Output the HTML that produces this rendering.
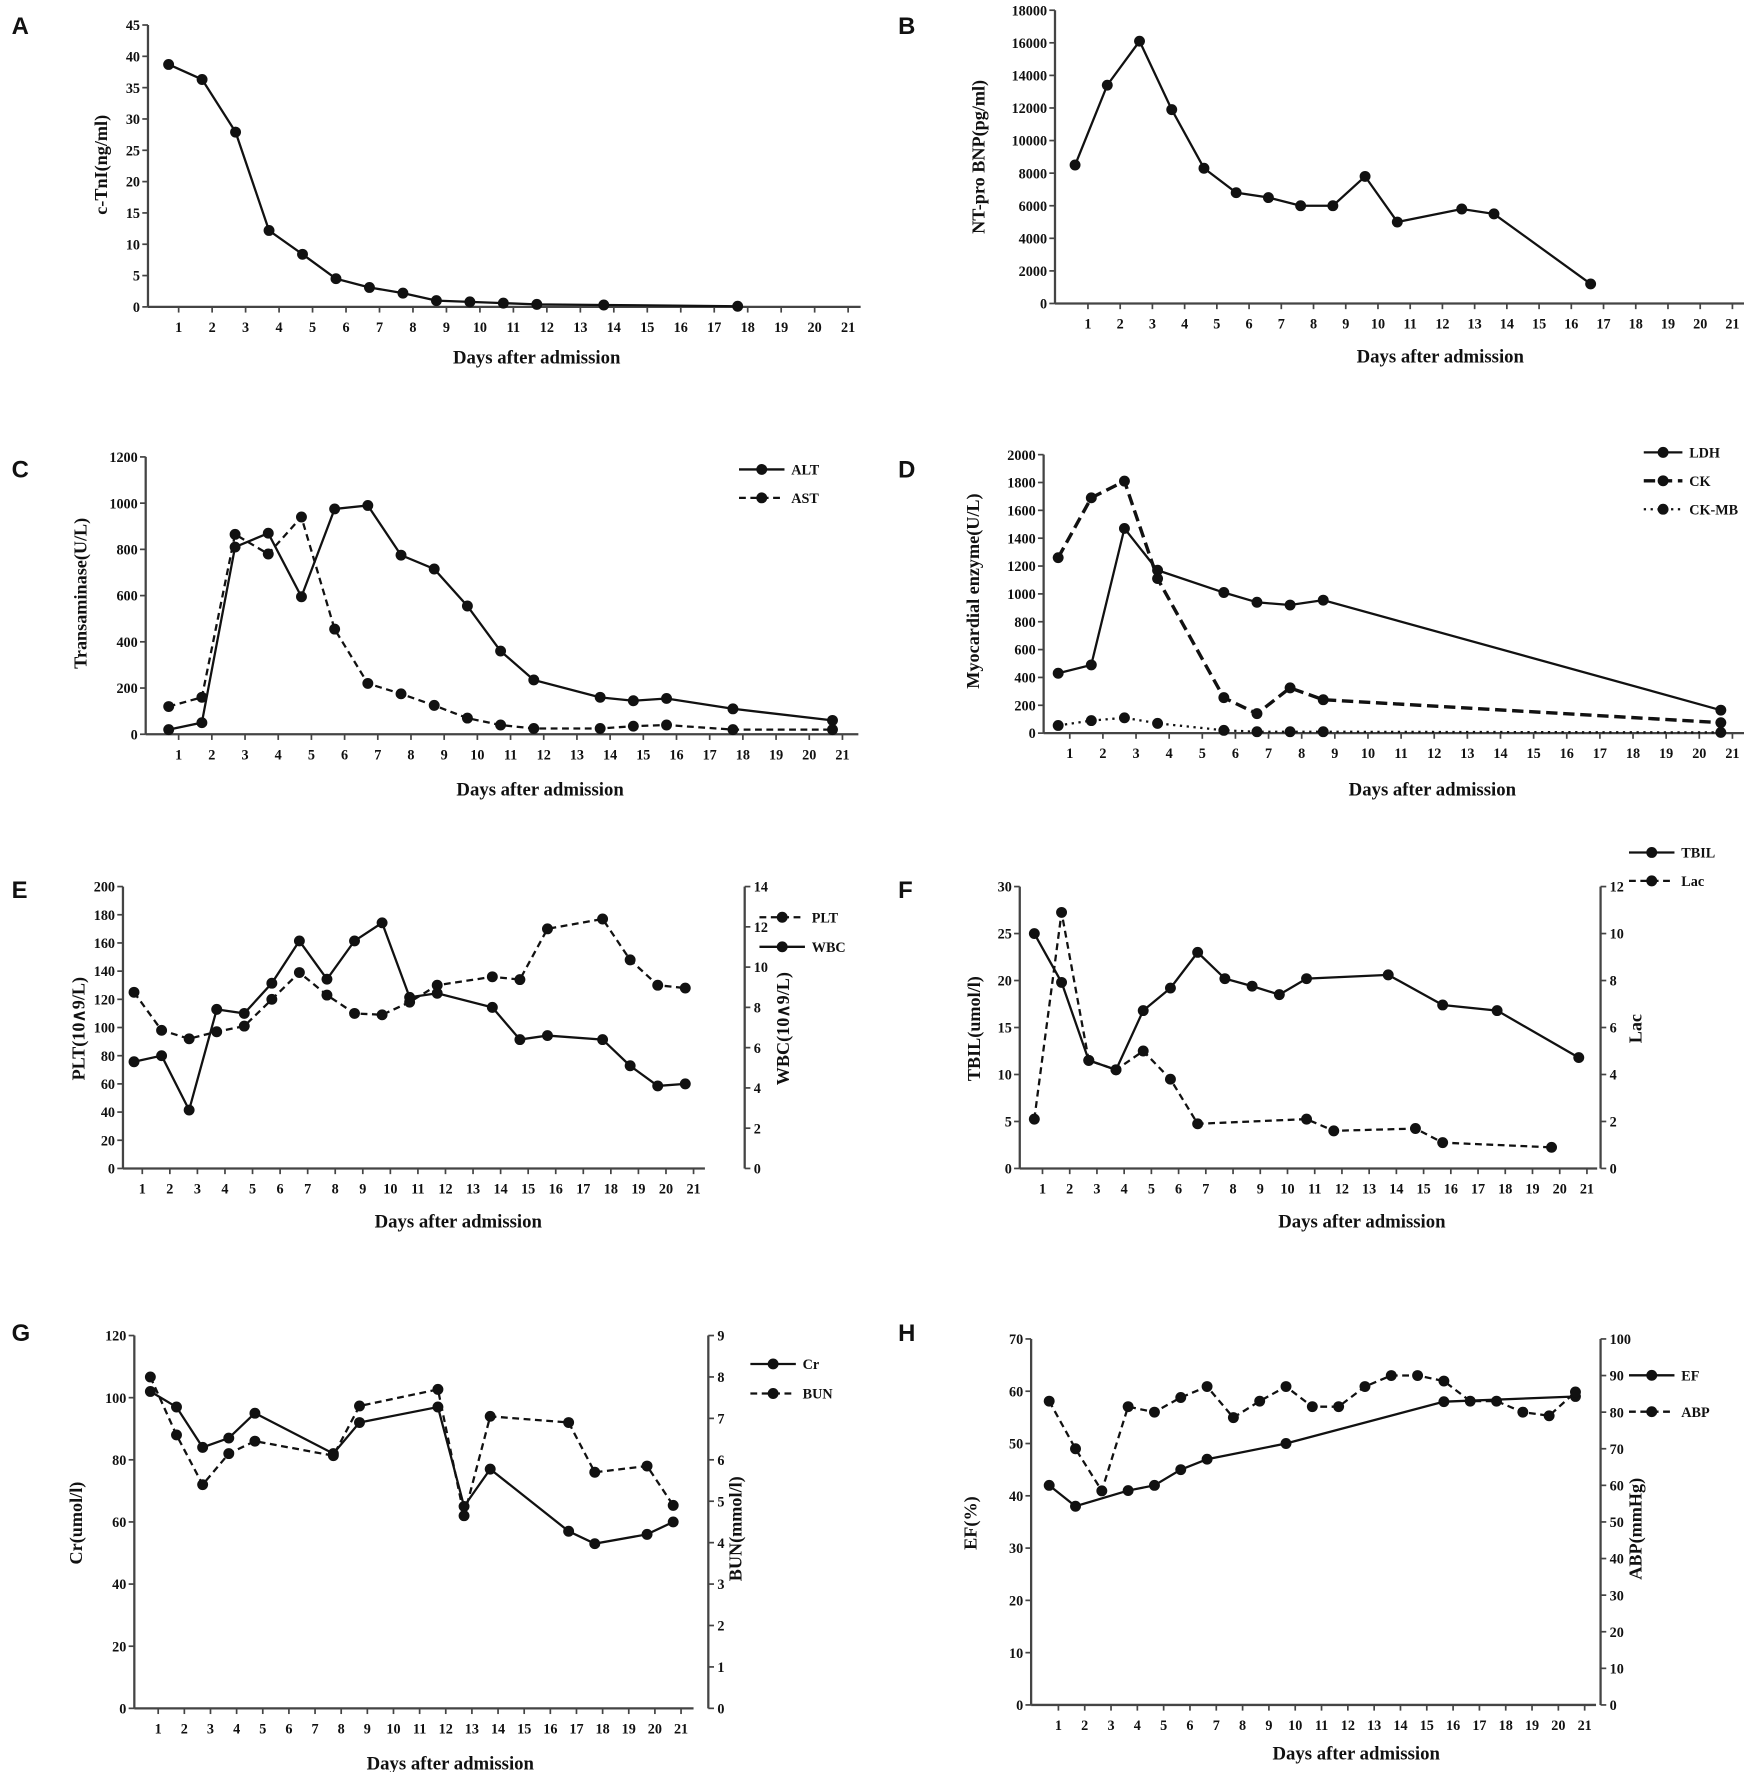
<!DOCTYPE html>
<html><head><meta charset="utf-8"><style>
html,body{margin:0;padding:0;background:#fff;}
svg{display:block;}
text{font-family:"Liberation Serif",serif;font-weight:bold;fill:#111;}
.lbl{font-family:"Liberation Sans",sans-serif;font-size:21px;}
</style></head><body>
<svg id="fig" width="1744" height="1772" viewBox="0 0 1534 1559" xmlns="http://www.w3.org/2000/svg"></svg>
<script>
// ---------- data ----------
const daysA=[1,2,3,4,5,6,7,8,9,10,11,12,14,18];
const tniA=[38.7,36.3,27.9,12.2,8.4,4.5,3.1,2.2,1.0,0.8,0.6,0.4,0.3,0.1];

const daysB=[1,2,3,4,5,6,7,8,9,10,11,13,14,17];
const bnpB=[8500,13400,16100,11900,8300,6800,6500,6000,6000,7800,5000,5800,5500,1200];

const daysC=[1,2,3,4,5,6,7,8,9,10,11,12,14,15,16,18,21];
const altC=[20,50,810,870,595,975,990,775,715,555,360,235,160,145,155,110,60];
const astC=[120,160,865,780,940,455,220,175,125,70,40,25,25,35,40,20,20];

const daysD=[1,2,3,4,6,7,8,9,21];
const ldhD=[430,490,1470,1170,1010,940,920,955,165];
const ckD=[1260,1690,1810,1110,255,140,325,240,75];
const ckmbD=[55,90,110,70,20,10,10,10,5];

const daysE=[1,2,3,4,5,6,7,8,9,10,11,12,14,15,16,18,19,20,21];
const pltE=[125,98,92,97,101,120,139,123,110,109,118,130,136,134,170,177,148,130,128];
const wbcE=[5.3,5.6,2.9,7.9,7.7,9.2,11.3,9.4,11.3,12.2,8.5,8.7,8.0,6.4,6.6,6.4,5.1,4.1,4.2];

const daysTbilF=[1,2,3,4,5,6,7,8,9,10,11,14,16,18,21];
const tbilF=[25,19.8,11.5,10.5,16.8,19.2,23,20.2,19.4,18.5,20.2,20.6,17.4,16.8,11.8];
const daysLacF=[1,2,3,4,5,6,7,11,12,15,16,20];
const lacF=[2.1,10.9,4.6,4.2,5.0,3.8,1.9,2.1,1.6,1.7,1.1,0.9];

const daysG=[1,2,3,4,5,8,9,12,13,14,17,18,20,21];
const crG=[102,97,84,87,95,82,92,97,65,77,57,53,56,60];
const bunG=[8.0,6.6,5.4,6.15,6.45,6.1,7.3,7.7,4.65,7.05,6.9,5.7,5.85,4.9];

const daysEfH=[1,2,4,5,6,7,10,16,21];
const efH=[42,38,41,42,45,47,50,58,59];
const daysAbpH=[1,2,3,4,5,6,7,8,9,10,11,12,13,14,15,16,17,18,19,20,21];
const abpH=[83,70,58.5,81.5,80,84,87,78.5,83,87,81.5,81.5,87,90,90,88.5,83,83,80,79,85.5];

const xTickLabels=[1,2,3,4,5,6,7,8,9,10,11,12,13,14,15,16,17,18,19,20,21];

// ---------- drawing ----------
const svg=document.getElementById('fig');
const NS='http://www.w3.org/2000/svg';
function mk(tag,attrs,parent){const e=document.createElementNS(NS,tag);for(const k in attrs)e.setAttribute(k,attrs[k]);(parent||svg).appendChild(e);return e;}
function txt(s,x,y,size,anchor,parent,rot){const t=mk('text',{x:x,y:y,'font-size':size,'text-anchor':anchor||'middle'},parent);if(rot)t.setAttribute('transform','rotate(-90 '+x+' '+y+')');t.textContent=s;return t;}

function panel(c){
  const g=mk('g',{});
  
  
  const L=mk('text',{x:c.lx,y:c.ly,class:'lbl','text-anchor':'start'},g);
  L.textContent=c.id;
  
  
  const xs=d=>c.c1+(d-1-c.off)*c.sp;
  const ysL=v=>c.y0-(v/c.ymax)*(c.y0-c.y1);
  const ysR=v=>c.y0-(v/(c.rmax||1))*(c.y0-c.y1);
  const ax=mk('g',{},g);
  
  
  mk('line',{x1:c.x0,y1:c.y0,x2:c.xEnd,y2:c.y0,stroke:'#444','stroke-width':2},ax);
  mk('line',{x1:c.x0,y1:c.y0,x2:c.x0,y2:c.y1,stroke:'#444','stroke-width':2},ax);
  for(let v=0;v<=c.ymax+1e-9;v+=c.ystep){
    const y=ysL(v);
    mk('line',{x1:c.x0-5,y1:y,x2:c.x0,y2:y,stroke:'#444','stroke-width':1.5},ax);
    const t=txt(String(v),c.x0-7,y+4.5,12.5,'end',ax);
    
    
  }
  xTickLabels.forEach(d=>{
    const x=c.c1+(d-1)*c.sp;
    mk('line',{x1:x,y1:c.y0,x2:x,y2:c.y0+5,stroke:'#444','stroke-width':1.5},ax);
    const t=txt(String(d),x,c.y0+22,12.5,'middle',ax);
    
    
  });
  if(c.rx){
    mk('line',{x1:c.rx,y1:c.y0,x2:c.rx,y2:c.y1,stroke:'#444','stroke-width':2},ax);
    for(let v=0;v<=c.rmax+1e-9;v+=c.rstep){
      const y=ysR(v);
      mk('line',{x1:c.rx,y1:y,x2:c.rx+5,y2:y,stroke:'#444','stroke-width':1.5},ax);
      const t=txt(String(v),c.rx+8,y+4.5,12.5,'start',ax);
      
      
    }
    const rt=txt(c.rtitle,c.rtx,c.rty,16,'middle',ax,true);
    
    
  }
  const yt=txt(c.ytitle,c.ytx,c.yty,16,'middle',ax,true);
  
  
  const xt=txt('Days after admission',c.xtx,c.xty,16.5,'middle',ax);
  
  
  c.series.forEach((s,i)=>{
    const ys=s.right?ysR:ysL;
    const sg=mk('g',{},g);
    
    
    const pts=s.days.map((d,j)=>xs(d).toFixed(1)+','+ys(s.vals[j]).toFixed(1)).join(' ');
    const pl=mk('polyline',{points:pts,fill:'none',stroke:'#111','stroke-width':s.w||2,'stroke-dasharray':s.dash||'none'},sg);
    
    
    s.days.forEach((d,j)=>{
      const p=mk('circle',{cx:xs(d),cy:ys(s.vals[j]),r:4.8,fill:'#111'},sg);
      
      
    });
    if(c.leg){
      const lg=mk('g',{},g);
      
      
      const ly=c.leg.y+i*c.leg.dy;
      const len=c.leg.len||40;
      mk('line',{x1:c.leg.x,y1:ly,x2:c.leg.x+len,y2:ly,stroke:'#111','stroke-width':s.w||2,'stroke-dasharray':s.dash||'none'},lg);
      mk('circle',{cx:c.leg.x+len/2,cy:ly,r:4.8,fill:'#111'},lg);
      txt(s.name,c.leg.x+len+6,ly+4.5,12.5,'start',lg);
    }
  });
}

panel({id:'A',lx:10,ly:30,x0:130,y0:270,y1:22,xEnd:757,c1:157,sp:29.45,off:0.3,ymax:45,ystep:5,
  ytitle:'c-TnI(ng/ml)',ytx:94,yty:145,xtx:472,xty:320,
  series:[{name:'cTnI',days:daysA,vals:tniA}]});
panel({id:'B',lx:790,ly:30,x0:928,y0:267,y1:9,xEnd:1535,c1:957,sp:28.35,off:0.4,ymax:18000,ystep:2000,
  ytitle:'NT-pro BNP(pg/ml)',ytx:866,yty:138,xtx:1267,xty:319,
  series:[{name:'BNP',days:daysB,vals:bnpB}]});
panel({id:'C',lx:10,ly:420,x0:128,y0:646,y1:402,xEnd:755,c1:157,sp:29.2,off:0.3,ymax:1200,ystep:200,
  ytitle:'Transaminase(U/L)',ytx:76,yty:522,xtx:475,xty:700,leg:{x:650,y:413,dy:25},
  series:[{name:'ALT',days:daysC,vals:altC},{name:'AST',days:daysC,vals:astC,dash:'6,4'}]});
panel({id:'D',lx:790,ly:420,x0:918,y0:645,y1:400,xEnd:1535,c1:941,sp:29.15,off:0.35,ymax:2000,ystep:200,
  ytitle:'Myocardial enzyme(U/L)',ytx:861,yty:520,xtx:1260,xty:700,leg:{x:1446,y:398,dy:25,len:34},
  series:[{name:'LDH',days:daysD,vals:ldhD},{name:'CK',days:daysD,vals:ckD,dash:'10,5',w:3},{name:'CK-MB',days:daysD,vals:ckmbD,dash:'2,4'}]});
panel({id:'E',lx:10,ly:790,x0:108,y0:1028,y1:780,xEnd:620,c1:125,sp:24.25,off:0.3,ymax:200,ystep:20,
  rx:655,rmax:14,rstep:2,rtitle:'WBC(10∧9/L)',rtx:694,rty:905,
  ytitle:'PLT(10∧9/L)',ytx:74,yty:905,xtx:403,xty:1080,leg:{x:668,y:807,dy:26},
  series:[{name:'PLT',days:daysE,vals:pltE,dash:'6,4'},{name:'WBC',days:daysE,vals:wbcE,right:true}]});
panel({id:'F',lx:790,ly:790,x0:897,y0:1028,y1:780,xEnd:1405,c1:917,sp:23.95,off:0.3,ymax:30,ystep:5,
  rx:1408,rmax:12,rstep:2,rtitle:'Lac',rtx:1444,rty:905,
  ytitle:'TBIL(umol/l)',ytx:862,yty:905,xtx:1198,xty:1080,leg:{x:1433,y:750,dy:25},
  series:[{name:'TBIL',days:daysTbilF,vals:tbilF},{name:'Lac',days:daysLacF,vals:lacF,dash:'6,4',right:true}]});
panel({id:'G',lx:10,ly:1180,x0:118,y0:1503,y1:1175,xEnd:610,c1:139,sp:23,off:0.3,ymax:120,ystep:20,
  rx:623,rmax:9,rstep:1,rtitle:'BUN(mmol/l)',rtx:652,rty:1345,
  ytitle:'Cr(umol/l)',ytx:72,yty:1340,xtx:396,xty:1557,leg:{x:660,y:1200,dy:26},
  series:[{name:'Cr',days:daysG,vals:crG},{name:'BUN',days:daysG,vals:bunG,dash:'6,4',right:true}]});
panel({id:'H',lx:790,ly:1180,x0:907,y0:1500,y1:1178,xEnd:1404,c1:931,sp:23.15,off:0.35,ymax:70,ystep:10,
  rx:1408,rmax:100,rstep:10,rtitle:'ABP(mmHg)',rtx:1444,rty:1345,
  ytitle:'EF(%)',ytx:859,yty:1340,xtx:1193,xty:1548,leg:{x:1433,y:1210,dy:32},
  series:[{name:'EF',days:daysEfH,vals:efH},{name:'ABP',days:daysAbpH,vals:abpH,dash:'6,4',right:true}]});
</script>
</body></html>
